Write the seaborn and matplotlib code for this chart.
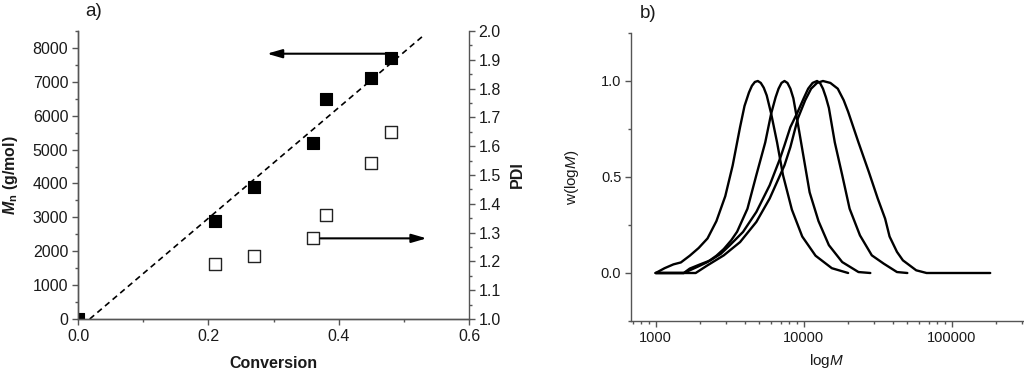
import numpy as np
import pandas as pd
import seaborn as sns
import matplotlib
matplotlib.use('Agg')
import matplotlib.pyplot as plt
from matplotlib.patches import FancyArrowPatch
from matplotlib.ticker import MultipleLocator, LogLocator, NullFormatter

# panel a) data
conversion = [0.0, 0.21, 0.27, 0.36, 0.38, 0.45, 0.48]
mn = [0, 2900, 3900, 5200, 6500, 7100, 7700]
pdi_conv = [0.21, 0.27, 0.36, 0.38, 0.45, 0.48]
pdi = [1.19, 1.22, 1.28, 1.36, 1.54, 1.65]
theory_x = [0.018, 0.528]
theory_mn = [0, 8330]

# panel b) data (logM, w)
c1_logm = [3.00, 3.06, 3.12, 3.17, 3.23, 3.29, 3.35, 3.41, 3.47, 3.52, 3.57, 3.60, 3.63, 3.65, 3.67, 3.69,
           3.71, 3.73, 3.75, 3.78, 3.82, 3.86, 3.92, 3.99, 4.08, 4.19, 4.30]
c1_w = [0.00, 0.025, 0.045, 0.055, 0.09, 0.13, 0.18, 0.27, 0.40, 0.56, 0.76, 0.87, 0.94, 0.975, 0.995, 1.00,
        0.99, 0.965, 0.925, 0.83, 0.68, 0.51, 0.33, 0.19, 0.09, 0.025, 0.00]
c2_logm = [3.00, 3.19, 3.23, 3.29, 3.35, 3.41, 3.46, 3.51, 3.55, 3.62, 3.68, 3.74, 3.78, 3.81, 3.83, 3.85,
           3.87, 3.89, 3.91, 3.93, 3.96, 4.00, 4.04, 4.10, 4.17, 4.26, 4.37, 4.45]
c2_w = [0.00, 0.00, 0.014, 0.035, 0.057, 0.09, 0.125, 0.17, 0.215, 0.335, 0.51, 0.68, 0.83, 0.915, 0.96, 0.99,
        1.00, 0.99, 0.96, 0.91, 0.78, 0.60, 0.42, 0.27, 0.145, 0.057, 0.005, 0.00]
c3_logm = [3.00, 3.19, 3.23, 3.30, 3.37, 3.44, 3.50, 3.59, 3.68, 3.77, 3.84, 3.87, 3.91, 3.96, 4.00,
           4.03, 4.06, 4.09, 4.11, 4.13, 4.15, 4.17, 4.21, 4.26, 4.31, 4.38, 4.46, 4.54, 4.63, 4.70]
c3_w = [0.00, 0.00, 0.023, 0.045, 0.066, 0.10, 0.144, 0.214, 0.318, 0.457, 0.596, 0.665, 0.76, 0.84, 0.91,
        0.96, 0.99, 1.00, 0.99, 0.96, 0.915, 0.86, 0.68, 0.51, 0.335, 0.196, 0.092, 0.049, 0.005, 0.00]
c4_logm = [3.00, 3.27, 3.35, 3.46, 3.57, 3.68, 3.77, 3.84, 3.87, 3.91, 3.96, 4.01, 4.05, 4.09, 4.13,
           4.18, 4.23, 4.27, 4.30, 4.37, 4.44, 4.50, 4.55, 4.58, 4.63, 4.67, 4.76, 4.83, 5.26]
c4_w = [0.00, 0.00, 0.04, 0.092, 0.161, 0.266, 0.388, 0.509, 0.561, 0.656, 0.804, 0.90, 0.96, 0.99, 1.00,
        0.99, 0.96, 0.90, 0.84, 0.68, 0.526, 0.388, 0.283, 0.19, 0.11, 0.066, 0.014, 0.00, 0.00]

sns.set_style('ticks')
plt.rcParams['font.family'] = ['Liberation Sans', 'DejaVu Sans']
plt.rcParams['mathtext.fontset'] = 'custom'
plt.rcParams['mathtext.rm'] = 'Liberation Sans'
plt.rcParams['mathtext.it'] = 'Liberation Sans:italic'
plt.rcParams['mathtext.bf'] = 'Liberation Sans:italic:bold'
plt.rcParams['mathtext.sf'] = 'Liberation Sans:bold'

spine_c = '#555555'
text_c = '#1a1a1a'

fig = plt.figure(figsize=(10.24, 3.74), dpi=100)
ax1 = fig.add_axes([78/1024, 1-319/374, 391/1024, 288/374])
ax2 = fig.add_axes([631/1024, 1-321/374, 392/1024, 288/374])

# ---- panel a
sns.lineplot(x=theory_x, y=theory_mn, ax=ax1, color='black', lw=1.2, linestyle=(0, (3.5, 2.5)))
sns.scatterplot(x=conversion, y=mn, ax=ax1, marker='s', s=75, color='black', edgecolor='black',
                linewidth=0.8, zorder=5)
ax1.set_xlim(0, 0.6)
ax1.set_ylim(0, 8500)
ax1.xaxis.set_major_locator(MultipleLocator(0.2))
ax1.xaxis.set_minor_locator(MultipleLocator(0.1))
ax1.yaxis.set_major_locator(MultipleLocator(1000))
ax1.yaxis.set_minor_locator(MultipleLocator(500))
ax1.set_xticklabels([f'{v:.1f}' for v in ax1.get_xticks()])
ax1.set_xlabel('Conversion', fontsize=11.5, fontweight='bold', color=text_c, labelpad=9)
ax1.set_ylabel(r'$\mathbf{M}_\mathsf{n}$ (g/mol)', fontsize=11.5, fontweight='bold', color=text_c, labelpad=9)

ax1r = ax1.twinx()
sns.scatterplot(x=pdi_conv, y=pdi, ax=ax1r, marker='s', s=70, facecolor='white', edgecolor='#222222',
                linewidth=1.0, zorder=5)
ax1r.set_ylim(1.0, 2.0)
ax1r.yaxis.set_major_locator(MultipleLocator(0.1))
ax1r.yaxis.set_minor_locator(MultipleLocator(0.05))
ax1r.set_yticklabels([f'{v:.1f}' for v in ax1r.get_yticks()])
ax1r.set_ylabel('PDI', fontsize=11.5, fontweight='bold', color=text_c, labelpad=6)

ax1.add_patch(FancyArrowPatch((0.485, 7830), (0.29, 7830), arrowstyle='-|>,head_length=9,head_width=2.6',
                              mutation_scale=1, lw=1.5, color='black', shrinkA=0, shrinkB=0, zorder=6))
ax1r.add_patch(FancyArrowPatch((0.372, 1.28), (0.535, 1.28), arrowstyle='-|>,head_length=9,head_width=2.6',
                               mutation_scale=1, lw=1.5, color='black', shrinkA=0, shrinkB=0, zorder=6))

for ax in (ax1, ax1r):
    ax.spines['top'].set_visible(False)
    for s in ax.spines.values():
        s.set_color(spine_c)
        s.set_linewidth(1.0)
    ax.tick_params(which='major', length=4, width=1, color=spine_c, labelsize=11.5, labelcolor=text_c, pad=3)
    ax.tick_params(which='minor', length=2.5, width=1, color=spine_c)
ax1.spines['right'].set_visible(False)

# ---- panel b
for lm, w in [(c1_logm, c1_w), (c2_logm, c2_w), (c3_logm, c3_w), (c4_logm, c4_w)]:
    df = pd.DataFrame({'M': 10 ** np.array(lm), 'w': w})
    sns.lineplot(data=df, x='M', y='w', ax=ax2, color='black', lw=1.7, sort=False, estimator=None,
                 solid_joinstyle='round')
ax2.set_xscale('log')
ax2.set_xlim(681, 303000)
ax2.set_ylim(-0.25, 1.25)
ax2.xaxis.set_major_locator(LogLocator(base=10, numticks=10))
ax2.xaxis.set_minor_locator(LogLocator(base=10, subs=np.arange(2, 10), numticks=20))
ax2.xaxis.set_minor_formatter(NullFormatter())
ax2.set_xticks([1000, 10000, 100000])
ax2.set_xticklabels(['1000', '10000', '100000'])
ax2.yaxis.set_major_locator(MultipleLocator(0.5))
ax2.yaxis.set_minor_locator(MultipleLocator(0.25))
ax2.set_yticks([0.0, 0.5, 1.0])
ax2.set_yticklabels(['0.0', '0.5', '1.0'])
ax2.set_xlabel(r'log$\mathit{M}$', fontsize=11, color=text_c, labelpad=5)
ax2.set_ylabel(r'w(log$\mathit{M}$)', fontsize=11, color=text_c, labelpad=14)
ax2.spines['top'].set_visible(False)
ax2.spines['right'].set_visible(False)
for s in ax2.spines.values():
    s.set_color(spine_c)
    s.set_linewidth(1.0)
ax2.tick_params(which='major', length=4, width=1, color=spine_c, labelsize=10.5, labelcolor=text_c, pad=3)
ax2.tick_params(which='minor', length=2.5, width=1, color=spine_c)

fig.text(85/1024, 1-11/374, 'a)', fontsize=13.5, color=text_c, va='center', ha='left')
fig.text(640/1024, 1-13/374, 'b)', fontsize=13.5, color=text_c, va='center', ha='left')

fig.savefig('out.png', dpi=100)
